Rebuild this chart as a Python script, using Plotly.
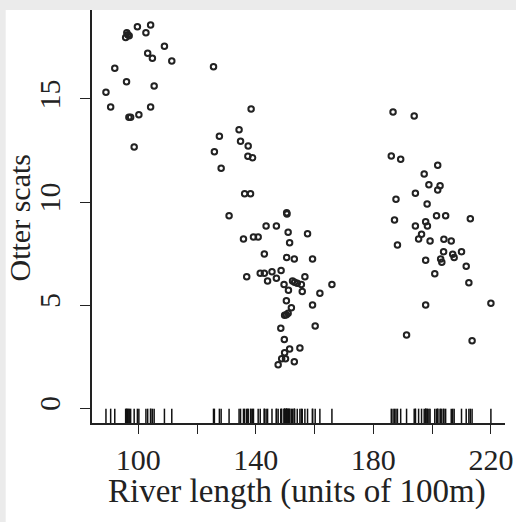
import plotly.graph_objects as go

# River length (units of 100m)
river_length = [
    99.7, 104.2, 102.6, 96.1, 96.4, 95.7, 96.9, 108.9, 103.2, 104.8, 111.4,
    92.0, 96.0, 105.4, 89.0, 90.6, 104.2, 96.8, 97.4, 100.2, 98.6,
    125.6, 127.6, 125.9, 138.4, 134.3, 134.8, 137.4, 137.3, 138.9, 128.2,
    136.2, 138.2, 130.9, 150.5, 150.6, 143.5, 147.0, 151.0, 157.6, 135.8,
    139.2, 140.8, 151.5, 142.9, 150.5, 153.1, 159.3, 136.9, 141.5, 142.9,
    145.5, 148.6, 144.0, 147.0, 149.6, 152.5, 153.2, 154.1, 155.5, 156.7,
    165.9, 151.1, 155.8, 161.8, 150.4, 159.3, 152.1, 149.8, 150.4, 151.0,
    160.2, 148.5, 149.7, 149.8, 151.5, 155.0, 148.8, 150.1, 147.6, 153.1,
    186.7, 193.9, 186.1, 189.3, 201.9, 197.3, 198.9, 202.7, 201.9, 194.3,
    187.7, 198.3, 187.2, 197.8, 198.4, 201.5, 204.6, 213.0, 194.3, 196.4,
    195.4, 199.3, 204.0, 206.5, 188.2, 210.0, 203.9, 207.0, 207.5, 197.8,
    202.9, 203.3, 211.6, 200.9, 212.5, 197.8, 220.0, 191.3, 213.6,
]

# Otter scats
otter_scats = [
    18.51, 18.59, 18.22, 18.22, 18.12, 17.98, 18.07, 17.56, 17.22, 16.98, 16.84,
    16.49, 15.84, 15.63, 15.33, 14.61, 14.61, 14.11, 14.11, 14.24, 12.67,
    16.57, 13.19, 12.44, 14.51, 13.51, 12.95, 12.72, 12.22, 12.15, 11.64,
    10.40, 10.40, 9.33, 9.48, 9.42, 8.83, 8.83, 8.53, 8.46, 8.20,
    8.30, 8.30, 8.02, 7.48, 7.31, 7.23, 7.23, 6.37, 6.54, 6.54,
    6.62, 6.67, 6.17, 6.30, 6.00, 6.17, 6.10, 6.05, 6.00, 6.37,
    6.00, 5.71, 5.65, 5.57, 5.21, 5.00, 4.87, 4.50, 4.53, 4.60,
    3.98, 3.87, 3.33, 2.68, 2.86, 2.91, 2.39, 2.39, 2.10, 2.25,
    14.37, 14.17, 12.23, 12.07, 11.78, 11.36, 10.84, 10.79, 10.58, 10.42,
    10.13, 9.90, 9.13, 9.04, 8.83, 9.33, 9.33, 9.19, 8.83, 8.43,
    8.20, 8.11, 8.19, 8.11, 7.91, 7.59, 7.59, 7.46, 7.31, 7.17,
    7.23, 7.07, 6.88, 6.52, 6.08, 5.00, 5.08, 3.54, 3.27,
]

x_tick_vals = [100, 120, 140, 160, 180, 200, 220]
x_tick_text = ["100", "", "140", "", "180", "", "220"]
y_tick_vals = [0, 5, 10, 15]
y_tick_text = ["0", "5", "10", "15"]

x_title = "River length (units of 100m)"
y_title = "Otter scats"

INK = "#222222"
FONT = "Liberation Serif, Times New Roman, serif"
RUG_Y = -0.44  # vertical placement of the rug strip (style)

fig = go.Figure()
fig.add_trace(go.Scatter(
    x=river_length, y=otter_scats, mode="markers",
    marker=dict(symbol="circle-open", size=5.5, color=INK, line=dict(width=2.0, color=INK)),
    hoverinfo="x+y", showlegend=False,
))
fig.add_trace(go.Scatter(
    x=river_length, y=[RUG_Y] * len(river_length), mode="markers",
    marker=dict(symbol="line-ns", size=12, color="#111", line=dict(width=1.5, color="#111")),
    hoverinfo="x", showlegend=False,
))

fig.update_layout(
    width=516, height=522,
    margin=dict(l=92, r=11, t=10, b=99),
    paper_bgcolor="#ebebeb", plot_bgcolor="white",
    font=dict(family=FONT, color=INK),
    shapes=[dict(type="rect", xref="paper", yref="paper",
                 x0=-0.209, x1=1.03, y0=-0.25, y1=1.0,
                 fillcolor="white", line=dict(width=0), layer="below")],
    annotations=[
        dict(text=x_title, xref="paper", yref="paper", x=0.497, y=-0.165,
             xanchor="center", yanchor="middle", showarrow=False,
             font=dict(size=33, family=FONT, color=INK)),
        dict(text=y_title, xref="paper", yref="paper", x=-0.175, y=0.497,
             xanchor="center", yanchor="middle", showarrow=False, textangle=-90,
             font=dict(size=30, family=FONT, color=INK)),
    ],
)
fig.update_xaxes(
    range=[84.25, 224.8], showgrid=False, zeroline=False,
    showline=True, linecolor=INK, linewidth=1.5,
    ticks="outside", ticklen=9, tickwidth=1.3, tickcolor=INK,
    tickvals=x_tick_vals, ticktext=x_tick_text,
    tickfont=dict(size=30, family=FONT, color=INK),
    automargin=False,
)
fig.update_yaxes(
    range=[-0.728, 19.32], showgrid=False, zeroline=False,
    showline=True, linecolor=INK, linewidth=1.5,
    ticks="outside", ticklen=10, tickwidth=1.3, tickcolor=INK,
    tickvals=y_tick_vals, ticktext=y_tick_text, tickangle=-90,
    tickfont=dict(size=30, family=FONT, color=INK),
    ticklabelstandoff=8,
    automargin=False,
)

fig.write_html(
    "out.html",
    config={"displayModeBar": False},
    post_script="document.body.style.margin='0';document.body.style.padding='0';",
)
